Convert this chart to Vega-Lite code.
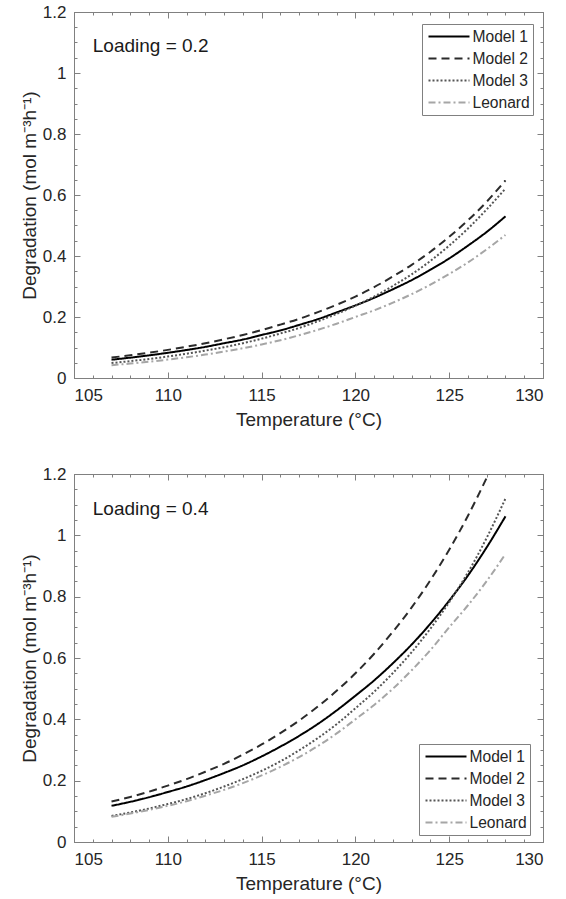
{
  "$schema": "https://vega.github.io/schema/vega-lite/v6.json",
  "background": "white",
  "padding": {"left": 20, "top": 3, "right": 5, "bottom": 5},
  "spacing": 96,
  "bounds": "flush",
  "resolve": {"legend": {"color": "independent", "strokeDash": "independent"}},
  "config": {
    "view": {"stroke": null},
    "font": "Liberation Sans",
    "axis": {
      "labelFont": "Liberation Sans", "titleFont": "Liberation Sans",
      "labelFontSize": 17, "titleFontSize": 19, "titleFontWeight": "normal",
      "labelColor": "#262626", "titleColor": "#262626",
      "domainColor": "#808080", "tickColor": "#808080", "domainWidth": 1, "tickWidth": 1,
      "grid": false
    },
    "legend": {
      "labelFont": "Liberation Sans", "labelFontSize": 15.6, "labelColor": "#262626",
      "symbolType": "M-2.5,0H2.5", "symbolSize": 269, "symbolStrokeWidth": 2,
      "symbolOffset": 14.5,
      "fillColor": "white", "strokeColor": "#808080", "padding": 3, "rowPadding": 3,
      "labelOffset": 14, "title": null
    }
  },
  "datasets": {
    "load02": [
      {"model": "Model 1", "T": 107, "D": 0.060}, {"model": "Model 1", "T": 108, "D": 0.0667}, {"model": "Model 1", "T": 109, "D": 0.0742}, {"model": "Model 1", "T": 110, "D": 0.0826}, {"model": "Model 1", "T": 111, "D": 0.0918}, {"model": "Model 1", "T": 112, "D": 0.102}, {"model": "Model 1", "T": 113, "D": 0.114}, {"model": "Model 1", "T": 114, "D": 0.126}, {"model": "Model 1", "T": 115, "D": 0.141}, {"model": "Model 1", "T": 116, "D": 0.156}, {"model": "Model 1", "T": 117, "D": 0.174}, {"model": "Model 1", "T": 118, "D": 0.193}, {"model": "Model 1", "T": 119, "D": 0.215}, {"model": "Model 1", "T": 120, "D": 0.238}, {"model": "Model 1", "T": 121, "D": 0.263}, {"model": "Model 1", "T": 122, "D": 0.291}, {"model": "Model 1", "T": 123, "D": 0.321}, {"model": "Model 1", "T": 124, "D": 0.355}, {"model": "Model 1", "T": 125, "D": 0.392}, {"model": "Model 1", "T": 126, "D": 0.434}, {"model": "Model 1", "T": 127, "D": 0.479}, {"model": "Model 1", "T": 128, "D": 0.530},
      {"model": "Model 2", "T": 107, "D": 0.067}, {"model": "Model 2", "T": 108, "D": 0.0745}, {"model": "Model 2", "T": 109, "D": 0.0829}, {"model": "Model 2", "T": 110, "D": 0.0922}, {"model": "Model 2", "T": 111, "D": 0.1026}, {"model": "Model 2", "T": 112, "D": 0.114}, {"model": "Model 2", "T": 113, "D": 0.127}, {"model": "Model 2", "T": 114, "D": 0.141}, {"model": "Model 2", "T": 115, "D": 0.157}, {"model": "Model 2", "T": 116, "D": 0.175}, {"model": "Model 2", "T": 117, "D": 0.194}, {"model": "Model 2", "T": 118, "D": 0.216}, {"model": "Model 2", "T": 119, "D": 0.240}, {"model": "Model 2", "T": 120, "D": 0.267}, {"model": "Model 2", "T": 121, "D": 0.298}, {"model": "Model 2", "T": 122, "D": 0.333}, {"model": "Model 2", "T": 123, "D": 0.371}, {"model": "Model 2", "T": 124, "D": 0.414}, {"model": "Model 2", "T": 125, "D": 0.463}, {"model": "Model 2", "T": 126, "D": 0.517}, {"model": "Model 2", "T": 127, "D": 0.578}, {"model": "Model 2", "T": 128, "D": 0.648},
      {"model": "Model 3", "T": 107, "D": 0.049}, {"model": "Model 3", "T": 108, "D": 0.0553}, {"model": "Model 3", "T": 109, "D": 0.0624}, {"model": "Model 3", "T": 110, "D": 0.0705}, {"model": "Model 3", "T": 111, "D": 0.0796}, {"model": "Model 3", "T": 112, "D": 0.0898}, {"model": "Model 3", "T": 113, "D": 0.101}, {"model": "Model 3", "T": 114, "D": 0.114}, {"model": "Model 3", "T": 115, "D": 0.129}, {"model": "Model 3", "T": 116, "D": 0.146}, {"model": "Model 3", "T": 117, "D": 0.164}, {"model": "Model 3", "T": 118, "D": 0.186}, {"model": "Model 3", "T": 119, "D": 0.210}, {"model": "Model 3", "T": 120, "D": 0.237}, {"model": "Model 3", "T": 121, "D": 0.267}, {"model": "Model 3", "T": 122, "D": 0.302}, {"model": "Model 3", "T": 123, "D": 0.340}, {"model": "Model 3", "T": 124, "D": 0.384}, {"model": "Model 3", "T": 125, "D": 0.434}, {"model": "Model 3", "T": 126, "D": 0.490}, {"model": "Model 3", "T": 127, "D": 0.553}, {"model": "Model 3", "T": 128, "D": 0.621},
      {"model": "Leonard", "T": 107, "D": 0.042}, {"model": "Leonard", "T": 108, "D": 0.0474}, {"model": "Leonard", "T": 109, "D": 0.0534}, {"model": "Leonard", "T": 110, "D": 0.0603}, {"model": "Leonard", "T": 111, "D": 0.068}, {"model": "Leonard", "T": 112, "D": 0.0767}, {"model": "Leonard", "T": 113, "D": 0.0865}, {"model": "Leonard", "T": 114, "D": 0.0975}, {"model": "Leonard", "T": 115, "D": 0.110}, {"model": "Leonard", "T": 116, "D": 0.124}, {"model": "Leonard", "T": 117, "D": 0.140}, {"model": "Leonard", "T": 118, "D": 0.158}, {"model": "Leonard", "T": 119, "D": 0.178}, {"model": "Leonard", "T": 120, "D": 0.200}, {"model": "Leonard", "T": 121, "D": 0.222}, {"model": "Leonard", "T": 122, "D": 0.247}, {"model": "Leonard", "T": 123, "D": 0.275}, {"model": "Leonard", "T": 124, "D": 0.306}, {"model": "Leonard", "T": 125, "D": 0.341}, {"model": "Leonard", "T": 126, "D": 0.379}, {"model": "Leonard", "T": 127, "D": 0.422}, {"model": "Leonard", "T": 128, "D": 0.469}
    ],
    "load04": [
      {"model": "Model 1", "T": 107, "D": 0.118}, {"model": "Model 1", "T": 108, "D": 0.131}, {"model": "Model 1", "T": 109, "D": 0.146}, {"model": "Model 1", "T": 110, "D": 0.163}, {"model": "Model 1", "T": 111, "D": 0.181}, {"model": "Model 1", "T": 112, "D": 0.202}, {"model": "Model 1", "T": 113, "D": 0.225}, {"model": "Model 1", "T": 114, "D": 0.250}, {"model": "Model 1", "T": 115, "D": 0.279}, {"model": "Model 1", "T": 116, "D": 0.311}, {"model": "Model 1", "T": 117, "D": 0.346}, {"model": "Model 1", "T": 118, "D": 0.385}, {"model": "Model 1", "T": 119, "D": 0.429}, {"model": "Model 1", "T": 120, "D": 0.477}, {"model": "Model 1", "T": 121, "D": 0.527}, {"model": "Model 1", "T": 122, "D": 0.583}, {"model": "Model 1", "T": 123, "D": 0.644}, {"model": "Model 1", "T": 124, "D": 0.712}, {"model": "Model 1", "T": 125, "D": 0.787}, {"model": "Model 1", "T": 126, "D": 0.869}, {"model": "Model 1", "T": 127, "D": 0.961}, {"model": "Model 1", "T": 128, "D": 1.062},
      {"model": "Model 2", "T": 107, "D": 0.132}, {"model": "Model 2", "T": 108, "D": 0.147}, {"model": "Model 2", "T": 109, "D": 0.164}, {"model": "Model 2", "T": 110, "D": 0.184}, {"model": "Model 2", "T": 111, "D": 0.205}, {"model": "Model 2", "T": 112, "D": 0.229}, {"model": "Model 2", "T": 113, "D": 0.255}, {"model": "Model 2", "T": 114, "D": 0.285}, {"model": "Model 2", "T": 115, "D": 0.318}, {"model": "Model 2", "T": 116, "D": 0.355}, {"model": "Model 2", "T": 117, "D": 0.396}, {"model": "Model 2", "T": 118, "D": 0.442}, {"model": "Model 2", "T": 119, "D": 0.493}, {"model": "Model 2", "T": 120, "D": 0.550}, {"model": "Model 2", "T": 121, "D": 0.614}, {"model": "Model 2", "T": 122, "D": 0.686}, {"model": "Model 2", "T": 123, "D": 0.765}, {"model": "Model 2", "T": 124, "D": 0.854}, {"model": "Model 2", "T": 125, "D": 0.953}, {"model": "Model 2", "T": 126, "D": 1.064}, {"model": "Model 2", "T": 127, "D": 1.188}, {"model": "Model 2", "T": 128, "D": 1.326},
      {"model": "Model 3", "T": 107, "D": 0.085}, {"model": "Model 3", "T": 108, "D": 0.0964}, {"model": "Model 3", "T": 109, "D": 0.109}, {"model": "Model 3", "T": 110, "D": 0.124}, {"model": "Model 3", "T": 111, "D": 0.140}, {"model": "Model 3", "T": 112, "D": 0.159}, {"model": "Model 3", "T": 113, "D": 0.181}, {"model": "Model 3", "T": 114, "D": 0.205}, {"model": "Model 3", "T": 115, "D": 0.232}, {"model": "Model 3", "T": 116, "D": 0.263}, {"model": "Model 3", "T": 117, "D": 0.299}, {"model": "Model 3", "T": 118, "D": 0.339}, {"model": "Model 3", "T": 119, "D": 0.384}, {"model": "Model 3", "T": 120, "D": 0.436}, {"model": "Model 3", "T": 121, "D": 0.490}, {"model": "Model 3", "T": 122, "D": 0.551}, {"model": "Model 3", "T": 123, "D": 0.619}, {"model": "Model 3", "T": 124, "D": 0.696}, {"model": "Model 3", "T": 125, "D": 0.782}, {"model": "Model 3", "T": 126, "D": 0.879}, {"model": "Model 3", "T": 127, "D": 0.992}, {"model": "Model 3", "T": 128, "D": 1.120},
      {"model": "Leonard", "T": 107, "D": 0.082}, {"model": "Leonard", "T": 108, "D": 0.0926}, {"model": "Leonard", "T": 109, "D": 0.1046}, {"model": "Leonard", "T": 110, "D": 0.118}, {"model": "Leonard", "T": 111, "D": 0.133}, {"model": "Leonard", "T": 112, "D": 0.151}, {"model": "Leonard", "T": 113, "D": 0.170}, {"model": "Leonard", "T": 114, "D": 0.192}, {"model": "Leonard", "T": 115, "D": 0.217}, {"model": "Leonard", "T": 116, "D": 0.245}, {"model": "Leonard", "T": 117, "D": 0.277}, {"model": "Leonard", "T": 118, "D": 0.313}, {"model": "Leonard", "T": 119, "D": 0.354}, {"model": "Leonard", "T": 120, "D": 0.400}, {"model": "Leonard", "T": 121, "D": 0.447}, {"model": "Leonard", "T": 122, "D": 0.500}, {"model": "Leonard", "T": 123, "D": 0.560}, {"model": "Leonard", "T": 124, "D": 0.626}, {"model": "Leonard", "T": 125, "D": 0.700}, {"model": "Leonard", "T": 126, "D": 0.772}, {"model": "Leonard", "T": 127, "D": 0.851}, {"model": "Leonard", "T": 128, "D": 0.939}
    ]
  },
  "vconcat": [
    {
      "width": 469, "height": 366,
      "data": {"name": "load02"},
      "layer": [
        {
          "mark": {"type": "line", "strokeWidth": 2, "clip": true, "interpolate": "monotone"},
          "encoding": {
            "x": {"field": "T", "type": "quantitative", "scale": {"domain": [105, 130], "nice": false, "zero": false},
              "axis": {"orient": "bottom", "values": [105, 110, 115, 120, 125, 130], "tickSize": -6, "labelPadding": 15, "title": "Temperature (°C)", "titlePadding": 7}},
            "y": {"field": "D", "type": "quantitative", "scale": {"domain": [0, 1.2], "nice": false, "zero": false},
              "axis": {"orient": "left", "values": [0, 0.2, 0.4, 0.6, 0.8, 1, 1.2], "format": "~g", "tickSize": -6, "labelPadding": 14, "title": "Degradation (mol m⁻³h⁻¹)", "titlePadding": 3}},
            "color": {"field": "model", "type": "nominal",
              "scale": {"domain": ["Model 1", "Model 2", "Model 3", "Leonard"], "range": ["#000000", "#2b2b2b", "#555555", "#a6a6a6"]},
              "legend": {"orient": "none", "legendX": 348, "legendY": 12}},
            "strokeDash": {"field": "model", "type": "nominal",
              "scale": {"domain": ["Model 1", "Model 2", "Model 3", "Leonard"], "range": [[1, 0], [8, 5], [2, 2], [7, 3, 2, 3]]},
              "legend": {"orient": "none", "legendX": 348, "legendY": 12}}
          }
        },
        {
          "mark": {"type": "point", "opacity": 0},
          "encoding": {
            "x": {"field": "T", "type": "quantitative", "scale": {"domain": [105, 130], "nice": false, "zero": false},
              "axis": {"orient": "bottom", "values": [105,106,107,108,109,110,111,112,113,114,115,116,117,118,119,120,121,122,123,124,125,126,127,128,129,130], "tickSize": -3, "labels": false, "domain": false, "title": null}},
            "y": {"field": "D", "type": "quantitative", "scale": {"domain": [0, 1.2], "nice": false, "zero": false},
              "axis": {"orient": "left", "values": [0,0.05,0.1,0.15,0.2,0.25,0.3,0.35,0.4,0.45,0.5,0.55,0.6,0.65,0.7,0.75,0.8,0.85,0.9,0.95,1,1.05,1.1,1.15,1.2], "tickSize": -3, "labels": false, "domain": false, "title": null}}
          }
        },
        {
          "mark": {"type": "point", "opacity": 0},
          "encoding": {
            "x": {"field": "T", "type": "quantitative", "scale": {"domain": [105, 130], "nice": false, "zero": false},
              "axis": {"orient": "top", "values": [105, 110, 115, 120, 125, 130], "tickSize": -6, "labels": false, "title": null}},
            "y": {"field": "D", "type": "quantitative", "scale": {"domain": [0, 1.2], "nice": false, "zero": false},
              "axis": {"orient": "right", "values": [0, 0.2, 0.4, 0.6, 0.8, 1, 1.2], "tickSize": -6, "labels": false, "title": null}}
          }
        },
        {
          "mark": {"type": "point", "opacity": 0},
          "encoding": {
            "x": {"field": "T", "type": "quantitative", "scale": {"domain": [105, 130], "nice": false, "zero": false},
              "axis": {"orient": "top", "values": [105,106,107,108,109,110,111,112,113,114,115,116,117,118,119,120,121,122,123,124,125,126,127,128,129,130], "tickSize": -3, "labels": false, "domain": false, "title": null}},
            "y": {"field": "D", "type": "quantitative", "scale": {"domain": [0, 1.2], "nice": false, "zero": false},
              "axis": {"orient": "right", "values": [0,0.05,0.1,0.15,0.2,0.25,0.3,0.35,0.4,0.45,0.5,0.55,0.6,0.65,0.7,0.75,0.8,0.85,0.9,0.95,1,1.05,1.1,1.15,1.2], "tickSize": -3, "labels": false, "domain": false, "title": null}}
          }
        },
        {
          "data": {"values": [{"lbl": "Loading = 0.2"}]},
          "mark": {"type": "text", "align": "left", "baseline": "middle", "fontSize": 19, "font": "Liberation Sans", "color": "#1a1a1a"},
          "encoding": {
            "x": {"datum": 106, "type": "quantitative", "axis": null},
            "y": {"datum": 1.09, "type": "quantitative", "axis": null},
            "text": {"field": "lbl"}
          }
        }
      ],
      "resolve": {"axis": {"x": "independent", "y": "independent"}}
    },
    {
      "width": 469, "height": 368,
      "data": {"name": "load04"},
      "layer": [
        {
          "mark": {"type": "line", "strokeWidth": 2, "clip": true, "interpolate": "monotone"},
          "encoding": {
            "x": {"field": "T", "type": "quantitative", "scale": {"domain": [105, 130], "nice": false, "zero": false},
              "axis": {"orient": "bottom", "values": [105, 110, 115, 120, 125, 130], "tickSize": -6, "labelPadding": 15, "title": "Temperature (°C)", "titlePadding": 7}},
            "y": {"field": "D", "type": "quantitative", "scale": {"domain": [0, 1.2], "nice": false, "zero": false},
              "axis": {"orient": "left", "values": [0, 0.2, 0.4, 0.6, 0.8, 1, 1.2], "format": "~g", "tickSize": -6, "labelPadding": 14, "title": "Degradation (mol m⁻³h⁻¹)", "titlePadding": 3}},
            "color": {"field": "model", "type": "nominal",
              "scale": {"domain": ["Model 1", "Model 2", "Model 3", "Leonard"], "range": ["#000000", "#2b2b2b", "#555555", "#a6a6a6"]},
              "legend": {"orient": "none", "legendX": 345, "legendY": 270}},
            "strokeDash": {"field": "model", "type": "nominal",
              "scale": {"domain": ["Model 1", "Model 2", "Model 3", "Leonard"], "range": [[1, 0], [8, 5], [2, 2], [7, 3, 2, 3]]},
              "legend": {"orient": "none", "legendX": 345, "legendY": 270}}
          }
        },
        {
          "mark": {"type": "point", "opacity": 0},
          "encoding": {
            "x": {"field": "T", "type": "quantitative", "scale": {"domain": [105, 130], "nice": false, "zero": false},
              "axis": {"orient": "bottom", "values": [105,106,107,108,109,110,111,112,113,114,115,116,117,118,119,120,121,122,123,124,125,126,127,128,129,130], "tickSize": -3, "labels": false, "domain": false, "title": null}},
            "y": {"field": "D", "type": "quantitative", "scale": {"domain": [0, 1.2], "nice": false, "zero": false},
              "axis": {"orient": "left", "values": [0,0.05,0.1,0.15,0.2,0.25,0.3,0.35,0.4,0.45,0.5,0.55,0.6,0.65,0.7,0.75,0.8,0.85,0.9,0.95,1,1.05,1.1,1.15,1.2], "tickSize": -3, "labels": false, "domain": false, "title": null}}
          }
        },
        {
          "mark": {"type": "point", "opacity": 0},
          "encoding": {
            "x": {"field": "T", "type": "quantitative", "scale": {"domain": [105, 130], "nice": false, "zero": false},
              "axis": {"orient": "top", "values": [105, 110, 115, 120, 125, 130], "tickSize": -6, "labels": false, "title": null}},
            "y": {"field": "D", "type": "quantitative", "scale": {"domain": [0, 1.2], "nice": false, "zero": false},
              "axis": {"orient": "right", "values": [0, 0.2, 0.4, 0.6, 0.8, 1, 1.2], "tickSize": -6, "labels": false, "title": null}}
          }
        },
        {
          "mark": {"type": "point", "opacity": 0},
          "encoding": {
            "x": {"field": "T", "type": "quantitative", "scale": {"domain": [105, 130], "nice": false, "zero": false},
              "axis": {"orient": "top", "values": [105,106,107,108,109,110,111,112,113,114,115,116,117,118,119,120,121,122,123,124,125,126,127,128,129,130], "tickSize": -3, "labels": false, "domain": false, "title": null}},
            "y": {"field": "D", "type": "quantitative", "scale": {"domain": [0, 1.2], "nice": false, "zero": false},
              "axis": {"orient": "right", "values": [0,0.05,0.1,0.15,0.2,0.25,0.3,0.35,0.4,0.45,0.5,0.55,0.6,0.65,0.7,0.75,0.8,0.85,0.9,0.95,1,1.05,1.1,1.15,1.2], "tickSize": -3, "labels": false, "domain": false, "title": null}}
          }
        },
        {
          "data": {"values": [{"lbl": "Loading = 0.4"}]},
          "mark": {"type": "text", "align": "left", "baseline": "middle", "fontSize": 19, "font": "Liberation Sans", "color": "#1a1a1a"},
          "encoding": {
            "x": {"datum": 106, "type": "quantitative", "axis": null},
            "y": {"datum": 1.087, "type": "quantitative", "axis": null},
            "text": {"field": "lbl"}
          }
        }
      ],
      "resolve": {"axis": {"x": "independent", "y": "independent"}}
    }
  ]
}
